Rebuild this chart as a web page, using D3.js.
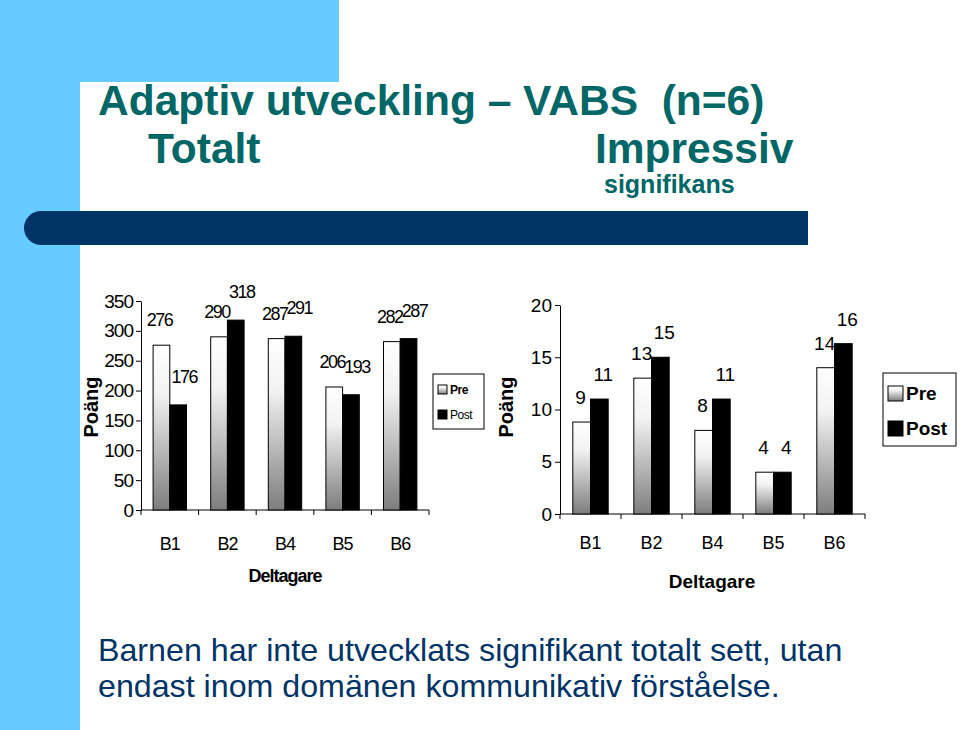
<!DOCTYPE html>
<html>
<head>
<meta charset="utf-8">
<script src="https://cdn.jsdelivr.net/npm/d3@7/dist/d3.min.js"></script>
<style>
  html, body { margin: 0; padding: 0; background: #fff; }
  svg { display: block; font-family: "Liberation Sans", Arial, sans-serif; }
</style>
</head>
<body>
<svg id="chart" width="960" height="730"></svg>
<script>
// ---------- data ----------
const categories = ["B1", "B2", "B4", "B5", "B6"];
const seriesNames = ["Pre", "Post"];
const totalPre  = [276, 290, 287, 206, 282];
const totalPost = [176, 318, 291, 193, 287];
const impPre    = [8.8, 13, 8, 4, 14];
const impPost   = [11, 15, 11, 4, 16.3];
const totalTicks = [0, 50, 100, 150, 200, 250, 300, 350];
const impTicks   = [0, 5, 10, 15, 20];
const titleLine1 = "Adaptiv utveckling – VABS \u00A0(n=6)";
const titleLeft2 = "Totalt";
const titleRight2 = "Impressiv";
const titleRight3 = "signifikans";
const yLabel = "Poäng";
const xLabel = "Deltagare";
const bodyLines = [
  "Barnen har inte utvecklats signifikant totalt sett, utan",
  "endast inom domänen kommunikativ förståelse."
];

const svg = d3.select("#chart");
const defs = svg.append("defs");
const grad = defs.append("linearGradient").attr("id", "preGrad")
  .attr("x1", 0).attr("y1", 0).attr("x2", 0).attr("y2", 1);
grad.append("stop").attr("offset", "0%").attr("stop-color", "#ffffff");
grad.append("stop").attr("offset", "30%").attr("stop-color", "#f2f2f2");
grad.append("stop").attr("offset", "100%").attr("stop-color", "#7d7d7d");

// ---------- slide background ----------
const lightBlue = "#66CCFF", navy = "#003366", teal = "#006666";
svg.append("rect").attr("x", 0).attr("y", 0).attr("width", 339).attr("height", 82).attr("fill", lightBlue);
svg.append("rect").attr("x", 0).attr("y", 0).attr("width", 80).attr("height", 730).attr("fill", lightBlue);
svg.append("rect").attr("x", 80).attr("y", 82).attr("width", 1200).attr("height", 1000).attr("rx", 28).attr("fill", "#fff");
// navy bar with rounded left end
svg.append("rect").attr("x", 24).attr("y", 211).attr("width", 60).attr("height", 34).attr("rx", 17).attr("fill", navy);
svg.append("rect").attr("x", 41).attr("y", 211).attr("width", 767).attr("height", 34).attr("fill", navy);

// ---------- titles ----------
svg.append("text").attr("x", 98).attr("y", 115).attr("fill", teal)
  .attr("font-size", 42.5).attr("font-weight", "bold").text(titleLine1);
svg.append("text").attr("x", 148).attr("y", 163).attr("fill", teal)
  .attr("font-size", 42.5).attr("font-weight", "bold").text(titleLeft2);
svg.append("text").attr("x", 595).attr("y", 163).attr("fill", teal)
  .attr("font-size", 42.5).attr("font-weight", "bold").text(titleRight2);
svg.append("text").attr("x", 604).attr("y", 193).attr("fill", teal)
  .attr("font-size", 25).attr("font-weight", "bold").text(titleRight3);

// ---------- body text ----------
bodyLines.forEach((t, i) => {
  svg.append("text").attr("x", 98).attr("y", 661 + i * 36).attr("fill", navy)
    .attr("font-size", 32.2).text(t);
});

// ---------- chart builder ----------
function drawChart(cfg) {
  const g = svg.append("g");
  const x0 = d3.scaleBand().domain(categories).range([cfg.x0, cfg.x1])
    .paddingInner(0.42).paddingOuter(0.21);
  const x1 = d3.scaleBand().domain(seriesNames).range([0, x0.bandwidth()]);
  const y = d3.scaleLinear().domain([0, cfg.max]).range([cfg.yBottom, cfg.yTop]);

  // y axis
  const yAxis = g.append("g").attr("transform", `translate(${cfg.x0},0)`)
    .call(d3.axisLeft(y).tickValues(cfg.ticks).tickSize(5).tickSizeOuter(0).tickPadding(3));
  yAxis.select(".domain").attr("stroke", "#000");
  yAxis.selectAll(".tick line").attr("stroke", "#000");
  yAxis.selectAll(".tick text").attr("font-size", cfg.tickFont).attr("fill", "#000")
    .attr("font-family", "Liberation Sans, Arial, sans-serif")
    .attr("letter-spacing", cfg.tickSpacing);

  // x axis line and boundary ticks
  g.append("line").attr("x1", cfg.x0).attr("x2", cfg.x1)
    .attr("y1", y(0)).attr("y2", y(0)).attr("stroke", "#000");
  d3.range(categories.length + 1).forEach(i => {
    const xx = cfg.x0 + i * x0.step();
    g.append("line").attr("x1", xx).attr("x2", xx).attr("y1", y(0)).attr("y2", y(0) + 5).attr("stroke", "#000");
  });
  g.selectAll(".xlab").data(categories).enter().append("text")
    .attr("x", d => x0(d) + x0.bandwidth() / 2).attr("y", cfg.xLabY)
    .attr("text-anchor", "middle").attr("font-size", 18).attr("letter-spacing", cfg.tickSpacing).text(d => d);

  // bars
  const rows = categories.map((c, i) => ({ c, vals: [cfg.pre[i], cfg.post[i]] }));
  const grp = g.selectAll(".grp").data(rows).enter().append("g")
    .attr("transform", d => `translate(${x0(d.c)},0)`);
  grp.selectAll("rect").data(d => d.vals.map((v, k) => ({ k, v }))).enter().append("rect")
    .attr("x", d => x1(seriesNames[d.k])).attr("width", x1.bandwidth())
    .attr("y", d => y(d.v)).attr("height", d => y(0) - y(d.v))
    .attr("fill", d => d.k === 0 ? "url(#preGrad)" : "#000")
    .attr("stroke", "#000").attr("stroke-width", 1);
  grp.selectAll(".lbl").data(d => d.vals.map((v, k) => ({ k, v }))).enter().append("text")
    .attr("x", d => x1(seriesNames[d.k]) + x1.bandwidth() / 2 + cfg.lblDx[d.k])
    .attr("y", d => y(d.v) - cfg.lblGap[d.k])
    .attr("text-anchor", "middle").attr("font-size", cfg.lblFont).attr("letter-spacing", cfg.lblSpacing)
    .text(d => d3.format(".0f")(d.v));

  // axis titles
  g.append("text").attr("transform", `translate(${cfg.yLabX},${cfg.yLabY}) rotate(-90)`)
    .attr("text-anchor", "middle").attr("font-size", 20).attr("font-weight", "bold").text(yLabel);
  g.append("text").attr("x", cfg.xTitleX).attr("y", cfg.xTitleY).attr("text-anchor", "middle")
    .attr("font-size", cfg.xTitleFont).attr("font-weight", "bold").attr("letter-spacing", cfg.tickSpacing).text(xLabel);

  // legend
  const L = cfg.legend;
  g.append("rect").attr("x", L.x).attr("y", L.y).attr("width", L.w).attr("height", L.h)
    .attr("fill", "#fff").attr("stroke", "#000");
  seriesNames.forEach((s, k) => {
    g.append("rect").attr("x", L.sx).attr("y", L.sy[k]).attr("width", L.ss).attr("height", L.ss)
      .attr("fill", k === 0 ? "url(#preGrad)" : "#000").attr("stroke", "#000");
    g.append("text").attr("x", L.tx).attr("y", L.ty[k]).attr("font-size", L.font)
      .attr("font-weight", L.bold[k] ? "bold" : "normal").attr("letter-spacing", L.spacing).text(s);
  });
}

drawChart({
  x0: 141, x1: 429, yBottom: 510, yTop: 301, max: 350, ticks: totalTicks,
  pre: totalPre, post: totalPost, tickFont: 19, tickSpacing: -1, xLabY: 550,
  lblGap: [19, 22], lblDx: [-2, 6], lblFont: 18, lblSpacing: -1.5,
  yLabX: 98, yLabY: 407, xTitleX: 285, xTitleY: 582, xTitleFont: 18,
  legend: { x: 433, y: 374, w: 51, h: 55, sx: 438, sy: [385, 410], ss: 9, tx: 450, ty: [394, 419], font: 12, bold: [true, false], spacing: -0.5 }
});
drawChart({
  x0: 560, x1: 865, yBottom: 514, yTop: 305, max: 20, ticks: impTicks,
  pre: impPre, post: impPost, tickFont: 19, tickSpacing: 0, xLabY: 549,
  lblGap: [18, 18], lblDx: [-1, 4], lblFont: 19, lblSpacing: 0,
  yLabX: 513, yLabY: 407, xTitleX: 712, xTitleY: 588, xTitleFont: 19,
  legend: { x: 883, y: 373, w: 73, h: 73, sx: 888, sy: [386, 421], ss: 15, tx: 906, ty: [400, 435], font: 19, bold: [true, true], spacing: 0 }
});
</script>
</body>
</html>
